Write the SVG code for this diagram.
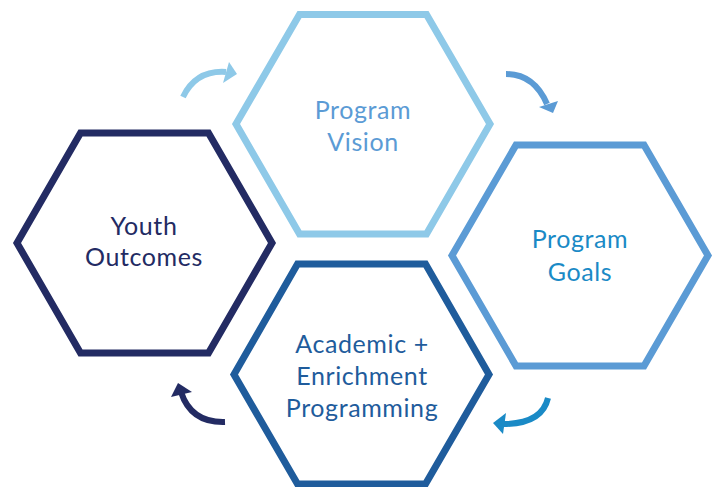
<svg xmlns="http://www.w3.org/2000/svg" width="719" height="487" viewBox="0 0 719 487">
<style>
.hex{fill:none;stroke-width:7;stroke-linejoin:miter}
.lbl{font-family:Lato,"Noto Sans","Liberation Sans",sans-serif;font-size:25px;letter-spacing:0.6px;text-anchor:middle}
.arr{fill:none;stroke-width:6}
</style>
<rect width="719" height="487" fill="#fff"/>
<g id="youth-outcomes">
<polygon class="hex" stroke="#232b63" points="17,243 80.5,133 208.5,133 272,243 208.5,353 80.5,353"/>
<text class="lbl" fill="#232b63" x="144" y="235">Youth</text>
<text class="lbl" fill="#232b63" x="144" y="266">Outcomes</text>
</g>
<g id="program-vision">
<polygon class="hex" stroke="#8ec9e8" points="236,124 299.5,14.5 426.5,14.5 490,124 426.5,234 299.5,234"/>
<text class="lbl" fill="#5b9bd5" x="363" y="119">Program</text>
<text class="lbl" fill="#5b9bd5" x="363" y="151">Vision</text>
</g>
<g id="program-goals">
<polygon class="hex" stroke="#5b9bd5" points="452,255.5 516,145 644,145 708,255.5 644,366 516,366"/>
<text class="lbl" fill="#1a8ac6" x="580" y="248">Program</text>
<text class="lbl" fill="#1a8ac6" x="580" y="281">Goals</text>
</g>
<g id="academic-enrichment">
<polygon class="hex" stroke="#1f5c9c" points="234,374.5 297.5,264 425.5,264 489,374.5 425.5,484 297.5,484"/>
<text class="lbl" fill="#1f5c9c" x="362" y="353">Academic +</text>
<text class="lbl" fill="#1f5c9c" x="362" y="385">Enrichment</text>
<text class="lbl" fill="#1f5c9c" x="362" y="417">Programming</text>
</g>
<g id="connectors">
<path class="arr" stroke="#8ec9e8" d="M183,97 Q196,70 226,72"/>
<polygon fill="#8ec9e8" points="237,74 229,62 223,83"/>
<path class="arr" stroke="#5b9bd5" d="M506,74 Q534,74 547,104"/>
<polygon fill="#5b9bd5" points="553,113 558,101 539,107"/>
<path class="arr" stroke="#1a8ac6" d="M548,398 Q542,424 503,424"/>
<polygon fill="#1a8ac6" points="493,423 506,413 503,434"/>
<path class="arr" stroke="#232b63" d="M225,422 Q191,423 181,392"/>
<polygon fill="#232b63" points="178,383 171,397 192,392"/>
</g>
</svg>
